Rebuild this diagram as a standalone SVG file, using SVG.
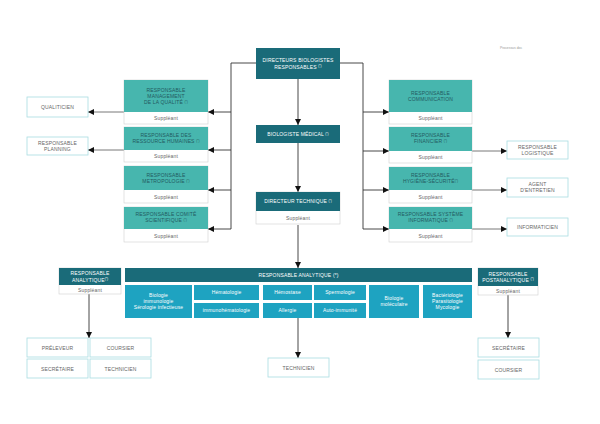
<svg xmlns="http://www.w3.org/2000/svg" width="600" height="424" viewBox="0 0 600 424">
<defs>
<marker id="ah" viewBox="0 0 10 10" refX="10" refY="5" markerWidth="6" markerHeight="6" markerUnits="userSpaceOnUse" orient="auto"><path d="M0,0 L10,5 L0,10 z" fill="#111"/></marker>
</defs>
<style>
text{font-family:"Liberation Sans",Arial,sans-serif;text-anchor:middle;font-size:5px;letter-spacing:0.15px}
.sup{font-size:3.2px;letter-spacing:0}
.dark{fill:#1a6b79}
.teal{fill:#47b6ae}
.cyan{fill:#1ea3c1}
.wbox{fill:#fff;stroke:#cfcfcf;stroke-width:0.6}
.lbox{fill:#fff;stroke:#a9dde2;stroke-width:0.8}
.tw{fill:#fff}
.td{fill:#235a61}
.tg{fill:#666}
.ln{fill:none;stroke:#333;stroke-width:0.9}
.ln2{fill:none;stroke:#555;stroke-width:0.8}
</style>
<rect width="600" height="424" fill="#fff"/>
<text x="511" y="48.5" style="font-size:3.4px;fill:#999;letter-spacing:0">Processus doc</text>

<g id="connectors">
<path class="ln" d="M256,63 H231 V229 M340,63 H363 V229"/>
<path class="ln" d="M231,112 H208" marker-end="url(#ah)"/>
<path class="ln" d="M231,150 H208" marker-end="url(#ah)"/>
<path class="ln" d="M231,190 H208" marker-end="url(#ah)"/>
<path class="ln" d="M231,229 H208" marker-end="url(#ah)"/>
<path class="ln" d="M363,112 H389" marker-end="url(#ah)"/>
<path class="ln" d="M363,151 H389" marker-end="url(#ah)"/>
<path class="ln" d="M363,190 H389" marker-end="url(#ah)"/>
<path class="ln" d="M363,229 H389" marker-end="url(#ah)"/>
<path class="ln2" d="M124,112 H88" marker-end="url(#ah)"/>
<path class="ln2" d="M124,150 H88" marker-end="url(#ah)"/>
<path class="ln2" d="M472,151 H507" marker-end="url(#ah)"/>
<path class="ln2" d="M472,190 H507" marker-end="url(#ah)"/>
<path class="ln2" d="M472,229 H507" marker-end="url(#ah)"/>
<path class="ln" d="M298,79 V125" marker-end="url(#ah)"/>
<path class="ln" d="M298,143 V192" marker-end="url(#ah)"/>
<path class="ln" d="M298,225 V268" marker-end="url(#ah)"/>
<path class="ln" d="M298,318 V358" marker-end="url(#ah)"/>
<path class="ln" d="M89,294 V338" marker-end="url(#ah)"/>
<path class="ln" d="M508,295 V338" marker-end="url(#ah)"/>
</g>

<g id="directeurs">
<rect class="dark" x="256" y="48" width="84" height="31"/>
<text class="tw" x="298" y="62">DIRECTEURS BIOLOGISTES</text>
<text class="tw" x="298" y="68.5">RESPONSABLES <tspan class="sup" dy="-1.5">(*)</tspan></text>
</g>
<g id="biologiste">
<rect class="dark" x="256" y="125" width="84" height="18"/>
<text class="tw" x="298" y="136">BIOLOGISTE MÉDICAL <tspan class="sup" dy="-1.5">(*)</tspan></text>
</g>
<g id="directeur-technique">
<rect class="wbox" x="256" y="192" width="84" height="32"/>
<rect class="dark" x="256" y="192" width="84" height="19"/>
<text class="tw" x="298" y="203">DIRECTEUR TECHNIQUE <tspan class="sup" dy="-1.5">(*)</tspan></text>
<text class="tg" x="298" y="219.5">Suppléant</text>
</g>

<g id="resp-qualite">
<rect class="wbox" x="124" y="80" width="84" height="44"/>
<rect class="teal" x="124" y="80" width="84" height="32"/>
<text class="td" x="166" y="92">RESPONSABLE</text>
<text class="td" x="166" y="98">MANAGEMENT</text>
<text class="td" x="166" y="104">DE LA QUALITÉ <tspan class="sup" dy="-1.5">(*)</tspan></text>
<text class="tg" x="166" y="120">Suppléant</text>
</g>
<g id="resp-rh">
<rect class="wbox" x="124" y="127" width="84" height="35"/>
<rect class="teal" x="124" y="127" width="84" height="23"/>
<text class="td" x="166" y="137">RESPONSABLE DES</text>
<text class="td" x="166" y="143">RESSOURCE HUMAINES <tspan class="sup" dy="-1.5">(*)</tspan></text>
<text class="tg" x="166" y="158">Suppléant</text>
</g>
<g id="resp-metro">
<rect class="wbox" x="124" y="166" width="84" height="37"/>
<rect class="teal" x="124" y="166" width="84" height="24"/>
<text class="td" x="166" y="177">RESPONSABLE</text>
<text class="td" x="166" y="183">METROPOLOGIE <tspan class="sup" dy="-1.5">(*)</tspan></text>
<text class="tg" x="166" y="198.5">Suppléant</text>
</g>
<g id="resp-comite">
<rect class="wbox" x="124" y="207" width="84" height="35"/>
<rect class="teal" x="124" y="207" width="84" height="22"/>
<text class="td" x="166" y="216">RESPONSABLE COMITÉ</text>
<text class="td" x="166" y="222">SCIENTIFIQUE <tspan class="sup" dy="-1.5">(*)</tspan></text>
<text class="tg" x="166" y="237.5">Suppléant</text>
</g>

<g id="resp-comm">
<rect class="wbox" x="389" y="80" width="83" height="44"/>
<rect class="teal" x="389" y="80" width="83" height="32"/>
<text class="td" x="430.5" y="95">RESPONSABLE</text>
<text class="td" x="430.5" y="101">COMMUNICATION</text>
<text class="tg" x="430.5" y="120">Suppléant</text>
</g>
<g id="resp-fin">
<rect class="wbox" x="389" y="127" width="83" height="36"/>
<rect class="teal" x="389" y="127" width="83" height="24"/>
<text class="td" x="430.5" y="137">RESPONSABLE</text>
<text class="td" x="430.5" y="143">FINANCIER <tspan class="sup" dy="-1.5">(*)</tspan></text>
<text class="tg" x="430.5" y="159">Suppléant</text>
</g>
<g id="resp-hyg">
<rect class="wbox" x="389" y="167" width="83" height="36"/>
<rect class="teal" x="389" y="167" width="83" height="23"/>
<text class="td" x="430.5" y="177">RESPONSABLE</text>
<text class="td" x="430.5" y="183">HYGIÈNE-SÉCURITÉ<tspan class="sup" dy="-1.5">(*)</tspan></text>
<text class="tg" x="430.5" y="198.5">Suppléant</text>
</g>
<g id="resp-si">
<rect class="wbox" x="389" y="207" width="83" height="35"/>
<rect class="teal" x="389" y="207" width="83" height="22"/>
<text class="td" x="430.5" y="216">RESPONSABLE SYSTÈME</text>
<text class="td" x="430.5" y="222">INFORMATIQUE <tspan class="sup" dy="-1.5">(*)</tspan></text>
<text class="tg" x="430.5" y="237.5">Suppléant</text>
</g>

<g id="qualiticien">
<rect class="lbox" x="27" y="97" width="61" height="20"/>
<text class="tg" x="57.5" y="109">QUALITICIEN</text>
</g>
<g id="planning">
<rect class="lbox" x="27" y="137" width="61" height="18"/>
<text class="tg" x="57.5" y="144.5">RESPONSABLE</text>
<text class="tg" x="57.5" y="150.8">PLANNING</text>
</g>
<g id="logistique">
<rect class="lbox" x="507" y="141" width="61" height="18"/>
<text class="tg" x="537.5" y="148.5">RESPONSABLE</text>
<text class="tg" x="537.5" y="154.8">LOGISTIQUE</text>
</g>
<g id="agent">
<rect class="lbox" x="507" y="178" width="61" height="19"/>
<text class="tg" x="537.5" y="186">AGENT</text>
<text class="tg" x="537.5" y="192.3">D'ENTRETIEN</text>
</g>
<g id="informaticien">
<rect class="lbox" x="507" y="218" width="61" height="18"/>
<text class="tg" x="537.5" y="229">INFORMATICIEN</text>
</g>

<g id="resp-analytique-gauche">
<rect class="wbox" x="59" y="268" width="62" height="26"/>
<rect class="dark" x="59" y="268" width="62" height="17"/>
<text class="tw" x="90" y="275.3">RESPONSABLE</text>
<text class="tw" x="90" y="281.6">ANALYTIQUE<tspan class="sup" dy="-1.5">(*)</tspan></text>
<text class="tg" x="90" y="291.5">Suppléant</text>
</g>
<g id="resp-postanalytique">
<rect class="wbox" x="478" y="268" width="60" height="27"/>
<rect class="dark" x="478" y="268" width="60" height="18"/>
<text class="tw" x="508" y="275.5">RESPONSABLE</text>
<text class="tw" x="508" y="281.8">POSTANALYTIQUE <tspan class="sup" dy="-1.5">(*)</tspan></text>
<text class="tg" x="508" y="292.5">Suppléant</text>
</g>

<g id="resp-analytique">
<rect class="dark" x="125" y="268" width="347" height="14"/>
<text class="tw" x="298.5" y="276.8">RESPONSABLE ANALYTIQUE (*)</text>
<rect class="cyan" x="125" y="285" width="67" height="33"/>
<text class="tw" x="158.5" y="296.5">Biologie</text>
<text class="tw" x="158.5" y="302.8">immunologie</text>
<text class="tw" x="158.5" y="309.1">Sérologie infectieuse</text>
<rect class="cyan" x="194" y="285" width="65" height="15"/>
<text class="tw" x="226.5" y="294.2">Hématologie</text>
<rect class="cyan" x="194" y="303" width="65" height="15"/>
<text class="tw" x="226.5" y="312.2">immunohématologie</text>
<rect class="cyan" x="263" y="285" width="49" height="15"/>
<text class="tw" x="287.5" y="294.2">Hémostase</text>
<rect class="cyan" x="263" y="303" width="49" height="15"/>
<text class="tw" x="287.5" y="312.2">Allergie</text>
<rect class="cyan" x="314" y="285" width="52" height="15"/>
<text class="tw" x="340" y="294.2">Spermologie</text>
<rect class="cyan" x="314" y="303" width="52" height="15"/>
<text class="tw" x="340" y="312.2">Auto-immunité</text>
<rect class="cyan" x="369" y="285" width="50" height="33"/>
<text class="tw" x="394" y="300">Biologie</text>
<text class="tw" x="394" y="306.3">moléculaire</text>
<rect class="cyan" x="423" y="285" width="49" height="33"/>
<text class="tw" x="447.5" y="296.5">Bactériologie</text>
<text class="tw" x="447.5" y="302.8">Parasitologie</text>
<text class="tw" x="447.5" y="309.1">Mycologie</text>
</g>

<g id="preleveur">
<rect class="lbox" x="27" y="338" width="61" height="19"/>
<text class="tg" x="57.5" y="349.5">PRÉLEVEUR</text>
</g>
<g id="coursier-1">
<rect class="lbox" x="90" y="338" width="61" height="19"/>
<text class="tg" x="120.5" y="349.5">COURSIER</text>
</g>
<g id="secretaire-1">
<rect class="lbox" x="27" y="359" width="61" height="19"/>
<text class="tg" x="57.5" y="370.5">SECRÉTAIRE</text>
</g>
<g id="technicien-1">
<rect class="lbox" x="90" y="359" width="61" height="19"/>
<text class="tg" x="120.5" y="370.5">TECHNICIEN</text>
</g>
<g id="technicien-2">
<rect class="lbox" x="268" y="358" width="61" height="19"/>
<text class="tg" x="298.5" y="369.5">TECHNICIEN</text>
</g>
<g id="secretaire-2">
<rect class="lbox" x="478" y="338" width="61" height="19"/>
<text class="tg" x="508.5" y="349.5">SECRÉTAIRE</text>
</g>
<g id="coursier-2">
<rect class="lbox" x="478" y="360" width="61" height="19"/>
<text class="tg" x="508.5" y="371.5">COURSIER</text>
</g>
</svg>
